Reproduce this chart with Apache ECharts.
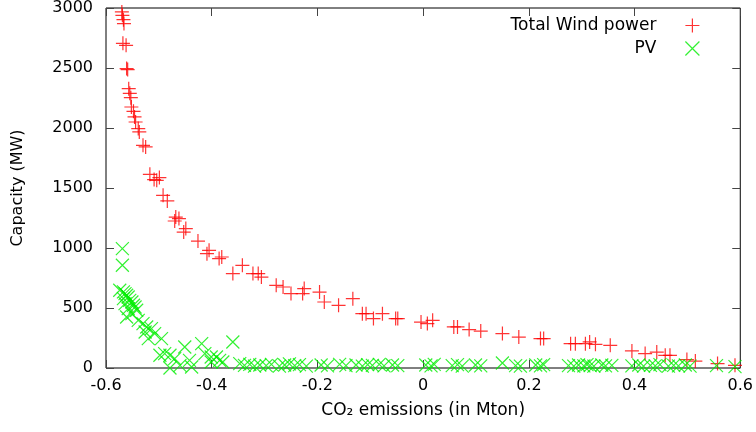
<!DOCTYPE html>
<html>
<head>
<meta charset="utf-8">
<script src="https://cdn.jsdelivr.net/npm/echarts@6/dist/echarts.min.js"></script>
<style>
  html, body { margin: 0; padding: 0; background: #fff; }
  #chart { width: 756px; height: 432px; }
</style>
</head>
<body>
<div id="chart"></div>
<script>
// Installed wind capacity vs. CO2 emission change: [emissions (Mton), capacity (MW)]
const windPoints = [
  [-0.570, 2967], [-0.569, 2939], [-0.567, 2903], [-0.566, 2870],
  [-0.568, 2706], [-0.562, 2689], [-0.559, 2487], [-0.561, 2495],
  [-0.557, 2328], [-0.555, 2289], [-0.553, 2253], [-0.552, 2175],
  [-0.548, 2139], [-0.546, 2092], [-0.544, 2050], [-0.539, 1995],
  [-0.537, 1967], [-0.530, 1856], [-0.525, 1842], [-0.517, 1614],
  [-0.509, 1570], [-0.499, 1587], [-0.504, 1564], [-0.492, 1439],
  [-0.484, 1392], [-0.468, 1258], [-0.462, 1245], [-0.470, 1225],
  [-0.449, 1162], [-0.453, 1133], [-0.426, 1058], [-0.405, 981],
  [-0.409, 953], [-0.386, 912], [-0.381, 925], [-0.360, 787],
  [-0.342, 856], [-0.322, 787], [-0.312, 787], [-0.306, 758],
  [-0.278, 689], [-0.265, 675], [-0.250, 620], [-0.225, 662],
  [-0.228, 620], [-0.196, 633], [-0.187, 550], [-0.160, 522],
  [-0.133, 578], [-0.115, 453], [-0.108, 453], [-0.094, 412],
  [-0.077, 453], [-0.052, 412], [-0.048, 412], [-0.004, 383],
  [0.008, 370], [0.018, 397], [0.058, 342], [0.065, 342],
  [0.087, 320], [0.109, 308], [0.150, 287], [0.181, 258],
  [0.222, 245], [0.228, 245], [0.279, 203], [0.288, 203],
  [0.307, 203], [0.315, 217], [0.326, 197], [0.354, 189],
  [0.395, 142], [0.420, 120], [0.442, 133], [0.458, 106],
  [0.467, 106], [0.499, 70], [0.515, 58], [0.557, 37], [0.590, 22]
];

// Installed PV capacity vs. CO2 emission change
const pvPoints = [
  [-0.569, 995], [-0.569, 856], [-0.574, 648], [-0.567, 634],
  [-0.564, 620], [-0.561, 606], [-0.558, 592], [-0.567, 578],
  [-0.555, 564], [-0.551, 550], [-0.564, 537], [-0.548, 523],
  [-0.545, 508], [-0.558, 495], [-0.542, 481], [-0.561, 425],
  [-0.551, 453], [-0.539, 397], [-0.530, 370], [-0.523, 342],
  [-0.526, 300], [-0.514, 328], [-0.508, 287], [-0.495, 245],
  [-0.520, 245], [-0.498, 106], [-0.489, 120], [-0.479, 106],
  [-0.470, 78], [-0.451, 175], [-0.442, 64], [-0.419, 203],
  [-0.413, 120], [-0.460, 22], [-0.479, 0], [-0.438, 8],
  [-0.401, 92], [-0.360, 217], [-0.391, 92], [-0.385, 64],
  [-0.401, 50], [-0.379, 50],
  [-0.347, 37], [-0.338, 22], [-0.328, 30], [-0.319, 15],
  [-0.309, 25], [-0.297, 20], [-0.287, 30], [-0.272, 15],
  [-0.262, 25], [-0.253, 35], [-0.243, 20], [-0.234, 28],
  [-0.221, 15], [-0.193, 25], [-0.181, 18], [-0.158, 30],
  [-0.146, 20], [-0.127, 25], [-0.115, 15], [-0.105, 28],
  [-0.096, 22], [-0.083, 30], [-0.074, 18], [-0.058, 25],
  [-0.048, 20], [0.005, 25], [0.015, 18], [0.021, 30],
  [0.055, 20], [0.065, 28], [0.074, 15], [0.099, 25],
  [0.109, 18], [0.150, 42], [0.175, 20], [0.184, 15],
  [0.213, 25], [0.222, 18], [0.228, 28], [0.275, 20],
  [0.285, 15], [0.294, 25], [0.304, 18], [0.310, 28],
  [0.316, 20], [0.323, 15], [0.338, 25], [0.345, 18],
  [0.357, 22], [0.395, 18], [0.408, 25], [0.417, 15],
  [0.430, 22], [0.439, 18], [0.448, 28], [0.464, 15],
  [0.474, 22], [0.483, 18], [0.496, 25], [0.505, 15],
  [0.555, 20], [0.590, 12]
];

const seriesNames = ['Total Wind power', 'PV'];
const seriesColors = ['#ff0000', '#00ee00'];
const xTicks = { min: -0.6, max: 0.6, step: 0.2 };
const yTicks = { min: 0, max: 3000, step: 500 };

const plusMark = 'path://M0,5L10,5M5,0L5,10';
const crossMark = 'path://M0,0L10,10M10,0L0,10';

const font = 'DejaVu Sans';
const tickStyle = { inside: true, length: 8, lineStyle: { color: '#444', width: 1 } };

function xAxisDef(pos, showLabels) {
  return {
    type: 'value', position: pos,
    min: xTicks.min, max: xTicks.max, interval: xTicks.step,
    axisLine: { show: false, onZero: false },
    axisTick: tickStyle,
    splitLine: { show: false },
    axisLabel: { show: showLabels, fontSize: 16, color: '#000', margin: 10, fontFamily: font }
  };
}
function yAxisDef(pos, showLabels) {
  return {
    type: 'value', position: pos,
    min: yTicks.min, max: yTicks.max, interval: yTicks.step,
    axisLine: { show: false, onZero: false },
    axisTick: tickStyle,
    splitLine: { show: false },
    axisLabel: {
      show: showLabels, fontSize: 16, color: '#000', margin: 13, fontFamily: font,
      formatter: function (v) { return String(v); }
    }
  };
}

const xMain = Object.assign(xAxisDef('bottom', true), {
  name: 'CO\u2082 emissions (in Mton)', nameLocation: 'middle', nameGap: 34,
  nameTextStyle: { fontSize: 17, color: '#000', fontFamily: font }
});
const yMain = Object.assign(yAxisDef('left', true), {
  name: 'Capacity (MW)', nameLocation: 'middle', nameGap: 80,
  nameTextStyle: { fontSize: 16, color: '#000', fontFamily: font }
});

const chart = echarts.init(document.getElementById('chart'), null, { renderer: 'canvas' });
chart.setOption({
  animation: false,
  backgroundColor: '#fff',
  textStyle: { fontFamily: font },
  grid: { left: 106, right: 15, top: 8, bottom: 64, show: true, borderColor: '#000', borderWidth: 1 },
  xAxis: [xMain, xAxisDef('top', false)],
  yAxis: [yMain, yAxisDef('right', false)],
  legend: {
    orient: 'vertical', align: 'right', right: 56, top: 17, padding: 0,
    itemWidth: 14, itemHeight: 14, itemGap: 6, selectedMode: false,
    textStyle: { fontSize: 17, color: '#000', fontFamily: font, padding: [0, 24, 0, 0] },
    itemStyle: { borderWidth: 1.2 },
    data: seriesNames
  },
  series: [
    {
      name: seriesNames[0], type: 'scatter', xAxisIndex: 0, yAxisIndex: 0,
      symbol: plusMark, symbolSize: 14,
      itemStyle: { color: seriesColors[0], borderColor: seriesColors[0], borderWidth: 1.2 },
      emphasis: { disabled: true },
      data: windPoints
    },
    {
      name: seriesNames[1], type: 'scatter', xAxisIndex: 0, yAxisIndex: 0,
      symbol: crossMark, symbolSize: 13,
      itemStyle: { color: seriesColors[1], borderColor: seriesColors[1], borderWidth: 1.2 },
      emphasis: { disabled: true },
      data: pvPoints
    }
  ]
});
</script>
</body>
</html>
